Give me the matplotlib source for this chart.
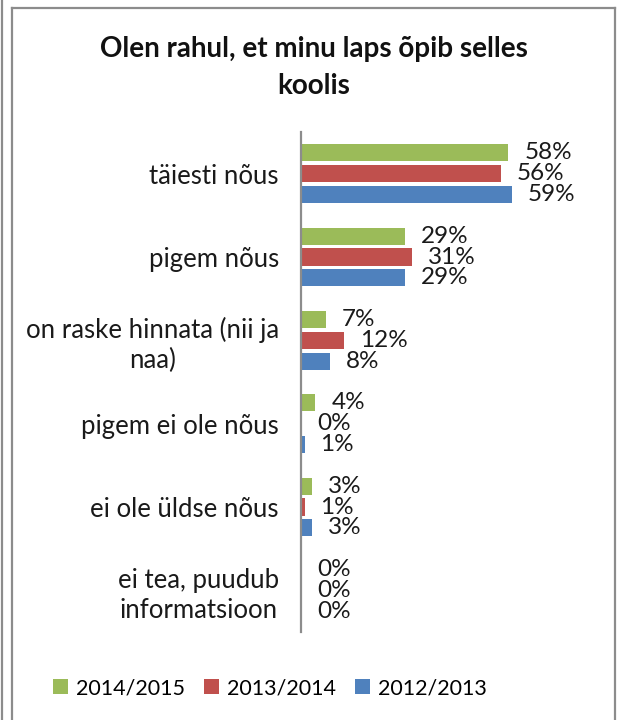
import matplotlib
matplotlib.use("Agg")
import matplotlib.pyplot as plt
from matplotlib.patches import Patch
from matplotlib.lines import Line2D

plt.rcParams['font.family'] = ['Lato', 'DejaVu Sans']

categories = [
    "täiesti nõus",
    "pigem nõus",
    "on raske hinnata (nii ja\nnaa)",
    "pigem ei ole nõus",
    "ei ole üldse nõus",
    "ei tea, puudub\ninformatsioon",
]
series_names = ["2014/2015", "2013/2014", "2012/2013"]
values_2014_2015 = [58, 29, 7, 4, 3, 0]
values_2013_2014 = [56, 31, 12, 0, 1, 0]
values_2012_2013 = [59, 29, 8, 1, 3, 0]
colors = ["#9BBB59", "#C0504D", "#4F81BD"]

fig = plt.figure(figsize=(6.17, 7.2), dpi=100)
ax = fig.add_axes([0.4878, 0.1222, 0.4635, 0.6944])

series = [values_2014_2015, values_2013_2014, values_2012_2013]
offsets = [-0.25, 0.0, 0.25]
bar_h = 0.205
for vals, off, col in zip(series, offsets, colors):
    ys = [i + off for i in range(len(categories))]
    ax.barh(ys, vals, height=bar_h, color=col, edgecolor='none')
    for y, v in zip(ys, vals):
        ax.annotate(f"{v}%", xy=(v, y), xytext=(11.5, 0), textcoords='offset points',
                    ha='left', va='center', fontsize=17.5, color='#1a1a1a')

ax.set_xlim(0, 80)
ax.set_ylim(len(categories) - 0.5, -0.5)
ax.set_yticks(range(len(categories)))
ax.set_yticklabels(categories, fontsize=18.5, color='#1a1a1a', multialignment='center',
                   linespacing=1.25)
ax.tick_params(axis='y', length=0, pad=16)
ax.set_xticks([])
for s in ['top', 'right', 'bottom']:
    ax.spines[s].set_visible(False)
ax.spines['left'].set_color('#8c8c8c')
ax.spines['left'].set_linewidth(1.6)

fig.text(0.509, 0.906, "Olen rahul, et minu laps õpib selles\nkoolis", ha='center', va='center',
         fontsize=20, fontweight='bold', linespacing=1.5, color='#111111')

handles = [Patch(facecolor=c, edgecolor='none') for c in colors]
fig.legend(handles, series_names, loc='center', bbox_to_anchor=(0.4376, 0.044), ncol=3,
           frameon=False, fontsize=15.5, handlelength=0.7, handleheight=0.7,
           handletextpad=0.4, columnspacing=0.85)

# Frame lines around the chart area
W, H = 617.0, 720.0
lc = '#8c8c8c'
fig.add_artist(Line2D([1.5 / W, 1.5 / W], [0, 1], color=lc, lw=1.6, transform=fig.transFigure))
fig.add_artist(Line2D([11.5 / W, 11.5 / W], [0, 1 - 8 / H], color=lc, lw=1.6, transform=fig.transFigure))
fig.add_artist(Line2D([11.5 / W, 615 / W], [1 - 8 / H, 1 - 8 / H], color=lc, lw=1.6, transform=fig.transFigure))
fig.add_artist(Line2D([615 / W, 615 / W], [0, 1 - 8 / H], color=lc, lw=1.6, transform=fig.transFigure))

fig.savefig("out.png", dpi=100)
